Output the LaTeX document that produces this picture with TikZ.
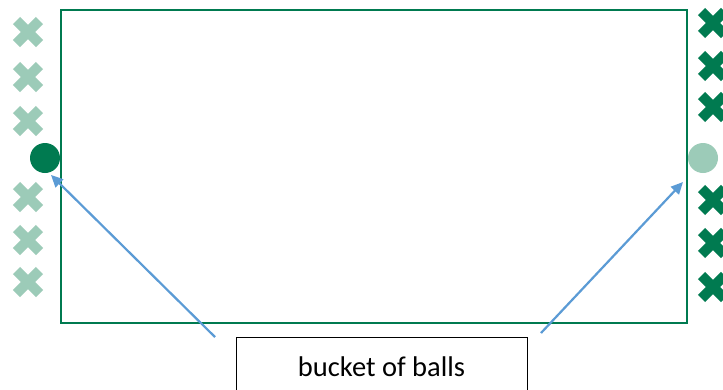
\documentclass[tikz,border=0pt]{standalone}
\usepackage{fontspec}
\setmainfont{Carlito}
\usetikzlibrary{arrows.meta}
\definecolor{dgreen}{RGB}{0,122,80}
\definecolor{lgreen}{RGB}{156,203,184}
\definecolor{ablue}{RGB}{91,155,213}
\tikzset{
  xmark/.style={line width=10pt},
  ball/.style={circle,minimum size=30pt,inner sep=0pt},
  conn/.style={ablue,line width=2.2pt,-{Triangle[length=12pt,width=11pt]}},
  field/.style={draw=dgreen,line width=2.5pt},
  label box/.style={draw=black,line width=1pt,minimum width=291pt,minimum height=60pt,anchor=north,font=\fontsize{28.5}{34}\selectfont,text height=20pt,text depth=2pt}
}
\newcommand{\xcross}[3]{\draw[xmark,#3] (#1-11.5,#2-11.5) -- (#1+11.5,#2+11.5) (#1-11.5,#2+11.5) -- (#1+11.5,#2-11.5);}
\begin{document}
\begin{tikzpicture}[x=1pt,y=-1pt]
\useasboundingbox (0,0) rectangle (723,389);
\clip (0,0) rectangle (723,389);
\fill[white] (0,0) rectangle (723,389);
\draw[field] (61,10) rectangle (687,323);
% left crosses
\foreach \yy in {32,77,121,197,240,282} {\xcross{28}{\yy}{lgreen}}
% right crosses
\foreach \yy in {23,66,107,200,243,287} {\xcross{713}{\yy}{dgreen}}
\node[ball,fill=dgreen] (lball) at (45,158) {};
\node[ball,fill=lgreen] (rball) at (703,158) {};
\node[label box] (bucket) at (381.5,337) {bucket of balls};
\coordinate (ls) at (215,337);
\coordinate (rs) at (541,333);
\coordinate (lt) at (51,175);
\coordinate (rt) at (683,182);
\draw[conn] (ls) -- (lt);
\draw[conn] (rs) -- (rt);
\end{tikzpicture}
\end{document}
